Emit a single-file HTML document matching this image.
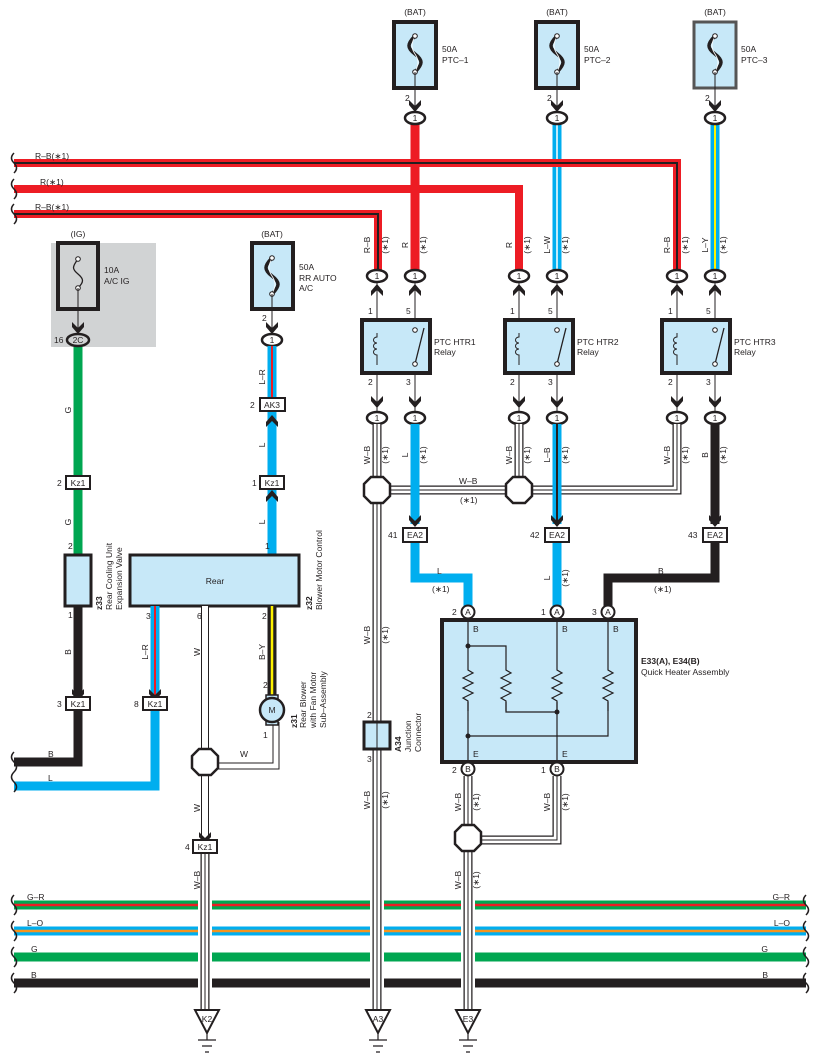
<!DOCTYPE html>
<html><head><meta charset="utf-8"><style>
html,body{margin:0;padding:0;background:#fff}
svg{display:block}
text{font-family:"Liberation Sans",sans-serif;font-size:8.5px;fill:#231f20}
.n{fill:none}
</style></head><body>
<svg width="818" height="1062" viewBox="0 0 818 1062" xmlns="http://www.w3.org/2000/svg">
<defs>
<path id="ad" d="M-6,-7 L0,-1 L6,-7 L6,-2 L0,5 L-6,-2Z" fill="#231f20"/>
<path id="au" d="M-6,7 L0,1 L6,7 L6,2 L0,-5 L-6,2Z" fill="#231f20"/>
<polygon id="oct" points="-6,-13 6,-13 13,-6 13,6 6,13 -6,13 -13,6 -13,-6" fill="#fff" stroke="#231f20" stroke-width="2.5"/>
<g id="fz"><path d="M0,-18 c-8,8 -8,12 0,18 c8,6 8,10 0,18" fill="none" stroke="#231f20" stroke-width="3.5"/><path d="M0,-18 c-4,8 -4,12 0,18 c4,6 4,10 0,18" fill="none" stroke="#fff" stroke-width="0.8"/><circle cx="0" cy="-18" r="2.3" fill="#fff" stroke="#231f20"/><circle cx="0" cy="18" r="2.3" fill="#fff" stroke="#231f20"/></g>
<g id="coil"><path d="M0,-14 v4 a3.5,3 0 1 0 0,6 a3.5,3 0 1 0 0,6 a3.5,3 0 1 0 0,6 v10" fill="none" stroke="#231f20" stroke-width="1"/></g>
<path id="res" d="M0,0 v10 l5,3 l-10,5 l10,5 l-10,5 l10,5 l-10,5 l5,3 v10" fill="none" stroke="#231f20" stroke-width="1.2"/>
</defs>

<!-- top fuses -->
<g>
<text x="415" y="15" text-anchor="middle">(BAT)</text>
<rect x="394" y="22" width="42" height="66" fill="#c7e8f8" stroke="#231f20" stroke-width="4"/>
<use href="#fz" x="415" y="54"/>
<text x="442" y="52">50A</text><text x="442" y="63">PTC–1</text>
<text x="557" y="15" text-anchor="middle">(BAT)</text>
<rect x="536" y="22" width="42" height="66" fill="#c7e8f8" stroke="#231f20" stroke-width="4"/>
<use href="#fz" x="557" y="54"/>
<text x="584" y="52">50A</text><text x="584" y="63">PTC–2</text>
<text x="715" y="15" text-anchor="middle">(BAT)</text>
<rect x="694" y="22" width="42" height="66" fill="#c7e8f8" stroke="#555" stroke-width="3"/>
<use href="#fz" x="715" y="54"/>
<text x="741" y="52">50A</text><text x="741" y="63">PTC–3</text>
<path d="M415,72V110M557,72V110M715,72V110" stroke="#231f20"/>
<text x="405" y="101">2</text><text x="547" y="101">2</text><text x="705" y="101">2</text>
<use href="#ad" x="415" y="107"/><use href="#ad" x="557" y="107"/><use href="#ad" x="715" y="107"/>
</g>

<!-- top vertical wires -->
<path d="M415,124V272" stroke="#ed1c24" stroke-width="9"/>
<path d="M557,124V272" stroke="#00aeef" stroke-width="9"/><path d="M557,124V272" stroke="#fff" stroke-width="1.5"/>
<path d="M715,124V272" stroke="#00aeef" stroke-width="9"/><path d="M715,124V272" stroke="#fff200" stroke-width="2"/>

<!-- harness -->
<polyline class="n" points="14,163 677,163 677,272" stroke="#ed1c24" stroke-width="8"/>
<polyline class="n" points="14,163 677,163 677,272" stroke="#231f20" stroke-width="2"/>
<polyline class="n" points="14,189 519,189 519,272" stroke="#ed1c24" stroke-width="8"/>
<polyline class="n" points="14,214 378,214 378,272" stroke="#ed1c24" stroke-width="8"/>
<polyline class="n" points="14,214 378,214 378,272" stroke="#231f20" stroke-width="2"/>
<path d="M14,153 q-5,5 0,10 q5,5 0,10 M14,179 q-5,5 0,10 q5,5 0,10 M14,204 q-5,5 0,10 q5,5 0,10" class="n" stroke="#231f20" stroke-width="1.5"/>
<text x="35" y="159">R–B(∗1)</text><text x="40" y="185">R(∗1)</text><text x="35" y="210">R–B(∗1)</text>

<!-- oval connectors -->
<g fill="#fff" stroke="#231f20" stroke-width="2.5">
<ellipse cx="415" cy="118" rx="10" ry="6"/><ellipse cx="557" cy="118" rx="10" ry="6"/><ellipse cx="715" cy="118" rx="10" ry="6"/>
<ellipse cx="377" cy="276" rx="10" ry="6"/><ellipse cx="415" cy="276" rx="10" ry="6"/><ellipse cx="519" cy="276" rx="10" ry="6"/><ellipse cx="557" cy="276" rx="10" ry="6"/><ellipse cx="677" cy="276" rx="10" ry="6"/><ellipse cx="715" cy="276" rx="10" ry="6"/>
<ellipse cx="377" cy="418" rx="10" ry="6"/><ellipse cx="415" cy="418" rx="10" ry="6"/><ellipse cx="519" cy="418" rx="10" ry="6"/><ellipse cx="557" cy="418" rx="10" ry="6"/><ellipse cx="677" cy="418" rx="10" ry="6"/><ellipse cx="715" cy="418" rx="10" ry="6"/>
<ellipse cx="272" cy="340" rx="10" ry="6"/>
</g>
<g text-anchor="middle" font-size="8">
<text x="415" y="121">1</text><text x="557" y="121">1</text><text x="715" y="121">1</text>
<text x="377" y="279">1</text><text x="415" y="279">1</text><text x="519" y="279">1</text><text x="557" y="279">1</text><text x="677" y="279">1</text><text x="715" y="279">1</text>
<text x="377" y="421">1</text><text x="415" y="421">1</text><text x="519" y="421">1</text><text x="557" y="421">1</text><text x="677" y="421">1</text><text x="715" y="421">1</text>
<text x="272" y="343">1</text>
</g>

<!-- rotated labels top -->
<g text-anchor="middle">
<text transform="translate(370,245) rotate(-90)">R–B</text><text transform="translate(388,245) rotate(-90)">(∗1)</text>
<text transform="translate(408,245) rotate(-90)">R</text><text transform="translate(426,245) rotate(-90)">(∗1)</text>
<text transform="translate(512,245) rotate(-90)">R</text><text transform="translate(530,245) rotate(-90)">(∗1)</text>
<text transform="translate(550,245) rotate(-90)">L–W</text><text transform="translate(568,245) rotate(-90)">(∗1)</text>
<text transform="translate(670,245) rotate(-90)">R–B</text><text transform="translate(688,245) rotate(-90)">(∗1)</text>
<text transform="translate(708,245) rotate(-90)">L–Y</text><text transform="translate(726,245) rotate(-90)">(∗1)</text>
</g>

<!-- relays -->
<path d="M377,282V412M415,282V412M519,282V412M557,282V412M677,282V412M715,282V412" stroke="#231f20"/>
<g>
<use href="#au" x="377" y="289"/><use href="#au" x="415" y="289"/><use href="#au" x="519" y="289"/><use href="#au" x="557" y="289"/><use href="#au" x="677" y="289"/><use href="#au" x="715" y="289"/>
<use href="#ad" x="377" y="403"/><use href="#ad" x="415" y="403"/><use href="#ad" x="519" y="403"/><use href="#ad" x="557" y="403"/><use href="#ad" x="677" y="403"/><use href="#ad" x="715" y="403"/>
</g>
<g>
<rect x="362" y="320" width="68" height="53" fill="#c7e8f8" stroke="#231f20" stroke-width="4"/>
<rect x="505" y="320" width="68" height="53" fill="#c7e8f8" stroke="#231f20" stroke-width="4"/>
<rect x="662" y="320" width="68" height="53" fill="#c7e8f8" stroke="#231f20" stroke-width="4"/>
</g>
<g>
<rect x="411" y="332" width="8" height="31" fill="#c7e8f8"/><rect x="553" y="332" width="8" height="31" fill="#c7e8f8"/><rect x="711" y="332" width="8" height="31" fill="#c7e8f8"/>
<rect x="373" y="333" width="8" height="28" fill="#c7e8f8"/><rect x="515" y="333" width="8" height="28" fill="#c7e8f8"/><rect x="673" y="333" width="8" height="28" fill="#c7e8f8"/>
<use href="#coil" x="377" y="347"/><use href="#coil" x="519" y="347"/><use href="#coil" x="677" y="347"/>
<path d="M424,328L415,364M566,328L557,364M724,328L715,364" stroke="#231f20" stroke-width="1.3"/>
<g fill="#fff" stroke="#231f20"><circle cx="415" cy="330" r="2.3"/><circle cx="415" cy="364" r="2.3"/><circle cx="557" cy="330" r="2.3"/><circle cx="557" cy="364" r="2.3"/><circle cx="715" cy="330" r="2.3"/><circle cx="715" cy="364" r="2.3"/></g>
</g>
<text x="368" y="314">1</text><text x="406" y="314">5</text><text x="510" y="314">1</text><text x="548" y="314">5</text><text x="668" y="314">1</text><text x="706" y="314">5</text>
<text x="368" y="385">2</text><text x="406" y="385">3</text><text x="510" y="385">2</text><text x="548" y="385">3</text><text x="668" y="385">2</text><text x="706" y="385">3</text>
<text x="434" y="345">PTC HTR1</text><text x="434" y="355">Relay</text>
<text x="577" y="345">PTC HTR2</text><text x="577" y="355">Relay</text>
<text x="734" y="345">PTC HTR3</text><text x="734" y="355">Relay</text>

<!-- lower colored wires -->
<polyline class="n" points="415,542 415,578 468,578 468,606" stroke="#00aeef" stroke-width="9"/>
<path d="M557,542V606" stroke="#00aeef" stroke-width="9"/>
<path d="M715,424V524" stroke="#231f20" stroke-width="9"/>
<polyline class="n" points="715,542 715,578 608,578 608,606" stroke="#231f20" stroke-width="9"/>

<!-- W-B triple wires -->
<g class="n">
<polyline points="377,424 377,1010" stroke="#231f20" stroke-width="9"/>
<polyline points="519,424 519,490" stroke="#231f20" stroke-width="9"/>
<polyline points="377,490 677,490 677,424" stroke="#231f20" stroke-width="9"/>
<polyline points="468,776 468,1010" stroke="#231f20" stroke-width="9"/>
<polyline points="557,776 557,840 468,840" stroke="#231f20" stroke-width="9"/>
<polyline points="205,853 205,1010" stroke="#231f20" stroke-width="9"/>
<polyline points="377,424 377,1010" stroke="#fff" stroke-width="6.5"/>
<polyline points="519,424 519,490" stroke="#fff" stroke-width="6.5"/>
<polyline points="377,490 677,490 677,424" stroke="#fff" stroke-width="6.5"/>
<polyline points="468,776 468,1010" stroke="#fff" stroke-width="6.5"/>
<polyline points="557,776 557,840 468,840" stroke="#fff" stroke-width="6.5"/>
<polyline points="205,853 205,1010" stroke="#fff" stroke-width="6.5"/>
<polyline points="377,424 377,1010" stroke="#231f20" stroke-width="1"/>
<polyline points="519,424 519,490" stroke="#231f20" stroke-width="1"/>
<polyline points="377,490 677,490 677,424" stroke="#231f20" stroke-width="1"/>
<polyline points="468,776 468,1010" stroke="#231f20" stroke-width="1"/>
<polyline points="557,776 557,840 468,840" stroke="#231f20" stroke-width="1"/>
<polyline points="205,853 205,1010" stroke="#231f20" stroke-width="1"/>
</g>
<path d="M415,424V524" stroke="#00aeef" stroke-width="9"/>
<path d="M557,424V524" stroke="#00aeef" stroke-width="9"/><path d="M557,424V524" stroke="#231f20" stroke-width="2"/>
<use href="#oct" x="377" y="490"/><use href="#oct" x="519" y="490"/><use href="#oct" x="468" y="838"/>
<text x="459" y="484">W–B</text><text x="460" y="503">(∗1)</text>

<g text-anchor="middle">
<text transform="translate(370,455) rotate(-90)">W–B</text><text transform="translate(388,455) rotate(-90)">(∗1)</text>
<text transform="translate(408,455) rotate(-90)">L</text><text transform="translate(426,455) rotate(-90)">(∗1)</text>
<text transform="translate(512,455) rotate(-90)">W–B</text><text transform="translate(530,455) rotate(-90)">(∗1)</text>
<text transform="translate(550,455) rotate(-90)">L–B</text><text transform="translate(568,455) rotate(-90)">(∗1)</text>
<text transform="translate(670,455) rotate(-90)">W–B</text><text transform="translate(688,455) rotate(-90)">(∗1)</text>
<text transform="translate(708,455) rotate(-90)">B</text><text transform="translate(726,455) rotate(-90)">(∗1)</text>
<text transform="translate(370,635) rotate(-90)">W–B</text><text transform="translate(388,635) rotate(-90)">(∗1)</text>
<text transform="translate(550,578) rotate(-90)">L</text><text transform="translate(568,578) rotate(-90)">(∗1)</text>
<text transform="translate(370,800) rotate(-90)">W–B</text><text transform="translate(388,800) rotate(-90)">(∗1)</text>
<text transform="translate(461,802) rotate(-90)">W–B</text><text transform="translate(479,802) rotate(-90)">(∗1)</text>
<text transform="translate(550,802) rotate(-90)">W–B</text><text transform="translate(568,802) rotate(-90)">(∗1)</text>
<text transform="translate(461,880) rotate(-90)">W–B</text><text transform="translate(479,880) rotate(-90)">(∗1)</text>
</g>
<text x="437" y="574">L</text><text x="432" y="592">(∗1)</text>
<text x="658" y="574">B</text><text x="654" y="592">(∗1)</text>

<!-- EA2 -->
<use href="#ad" x="415" y="522"/><use href="#ad" x="557" y="522"/><use href="#ad" x="715" y="522"/>
<g fill="#fff" stroke="#231f20" stroke-width="2"><rect x="403" y="528" width="24" height="14"/><rect x="545" y="528" width="24" height="14"/><rect x="703" y="528" width="24" height="14"/></g>
<g text-anchor="middle"><text x="415" y="538">EA2</text><text x="557" y="538">EA2</text><text x="715" y="538">EA2</text></g>
<text x="388" y="538">41</text><text x="530" y="538">42</text><text x="688" y="538">43</text>

<!-- heater -->
<rect x="442" y="620" width="194" height="142" fill="#c7e8f8" stroke="#231f20" stroke-width="4"/>
<g class="n" stroke="#231f20" stroke-width="1.2">
<path d="M468,620V660M468,702V762M468,646H506V660M506,702V712H557M557,620V660M557,702V762M608,620V660M608,702V736H468"/>
</g>
<use href="#res" x="468" y="660"/><use href="#res" x="506" y="660"/><use href="#res" x="557" y="660"/><use href="#res" x="608" y="660"/>
<g fill="#231f20"><circle cx="468" cy="646" r="2.5"/><circle cx="557" cy="712" r="2.5"/><circle cx="468" cy="736" r="2.5"/></g>
<text x="473" y="632">B</text><text x="562" y="632">B</text><text x="613" y="632">B</text>
<text x="473" y="757">E</text><text x="562" y="757">E</text>
<g fill="#fff" stroke="#231f20" stroke-width="2"><circle cx="468" cy="612" r="6.5"/><circle cx="557" cy="612" r="6.5"/><circle cx="608" cy="612" r="6.5"/><circle cx="468" cy="769" r="6.5"/><circle cx="557" cy="769" r="6.5"/></g>
<g text-anchor="middle" font-size="8"><text x="468" y="615">A</text><text x="557" y="615">A</text><text x="608" y="615">A</text><text x="468" y="772">B</text><text x="557" y="772">B</text></g>
<text x="452" y="615">2</text><text x="541" y="615">1</text><text x="592" y="615">3</text><text x="452" y="773">2</text><text x="541" y="773">1</text>
<text x="641" y="664" font-weight="bold" font-size="8">E33(A), E34(B)</text><text x="641" y="675" font-size="8">Quick Heater Assembly</text>

<!-- A34 -->
<rect x="364" y="722" width="26" height="27" fill="#c7e8f8" stroke="#231f20" stroke-width="3"/>
<path d="M377,722V749" stroke="#231f20"/>
<text x="367" y="718">2</text><text x="367" y="762">3</text>
<text transform="translate(401,752) rotate(-90)" font-weight="bold">A34</text>
<text transform="translate(411,752) rotate(-90)">Junction</text>
<text transform="translate(421,752) rotate(-90)">Connector</text>

<!-- left IG fuse -->
<rect x="51" y="243" width="105" height="104" fill="#d1d3d4"/>
<text x="78" y="237" text-anchor="middle">(IG)</text>
<rect x="58" y="243" width="40" height="66" fill="#d1d3d4" stroke="#231f20" stroke-width="4"/>
<path d="M78,259 c-6,8 -6,10 0,15 c6,5 6,8 0,14" class="n" stroke="#231f20" stroke-width="1.3"/>
<g fill="#fff" stroke="#231f20"><circle cx="78" cy="259" r="2.3"/><circle cx="78" cy="288" r="2.3"/></g>
<path d="M78,288V332" stroke="#231f20"/><use href="#ad" x="78" y="329"/>
<text x="104" y="273">10A</text><text x="104" y="284">A/C IG</text>
<text x="54" y="343">16</text>

<!-- BAT RR fuse -->
<text x="272" y="237" text-anchor="middle">(BAT)</text>
<rect x="252" y="243" width="41" height="66" fill="#c7e8f8" stroke="#231f20" stroke-width="4"/>
<use href="#fz" x="272" y="276"/>
<path d="M272,294V332" stroke="#231f20"/><use href="#ad" x="272" y="329"/>
<text x="299" y="270">50A</text><text x="299" y="281">RR AUTO</text><text x="299" y="291">A/C</text>
<text x="262" y="321">2</text>

<!-- green wire -->
<path d="M78,346V555" stroke="#00a651" stroke-width="9"/>
<ellipse cx="78" cy="340" rx="11" ry="6" fill="#d1d3d4" stroke="#231f20" stroke-width="2.5"/>
<text x="78" y="343" text-anchor="middle" font-size="8">2C</text>
<path d="M272,346V398" stroke="#00aeef" stroke-width="9"/><path d="M272,346V398" stroke="#ed1c24" stroke-width="2"/>
<path d="M272,411V555" stroke="#00aeef" stroke-width="9"/>
<use href="#au" x="272" y="420"/><use href="#au" x="272" y="495"/>
<g fill="#fff" stroke="#231f20" stroke-width="2">
<rect x="66" y="476" width="24" height="13"/><rect x="260" y="398" width="25" height="13"/><rect x="260" y="476" width="24" height="13"/>
</g>
<g text-anchor="middle" font-size="8"><text x="78" y="486">Kz1</text><text x="272" y="408">AK3</text><text x="272" y="486">Kz1</text></g>
<text x="57" y="486">2</text><text x="250" y="408">2</text><text x="252" y="486">1</text>
<g text-anchor="middle">
<text transform="translate(71,410) rotate(-90)">G</text><text transform="translate(71,522) rotate(-90)">G</text>
<text transform="translate(265,377) rotate(-90)">L–R</text><text transform="translate(265,445) rotate(-90)">L</text><text transform="translate(265,522) rotate(-90)">L</text>
<text transform="translate(71,652) rotate(-90)">B</text><text transform="translate(148,652) rotate(-90)">L–R</text>
<text transform="translate(200,652) rotate(-90)">W</text><text transform="translate(265,652) rotate(-90)">B–Y</text>
<text transform="translate(200,808) rotate(-90)">W</text><text transform="translate(200,880) rotate(-90)">W–B</text>
</g>
<text x="68" y="549">2</text><text x="265" y="549">1</text>

<!-- z33 & z32 -->
<rect x="65" y="555" width="26" height="51" fill="#c7e8f8" stroke="#231f20" stroke-width="3"/>
<rect x="130" y="555" width="169" height="51" fill="#c7e8f8" stroke="#231f20" stroke-width="3"/>
<text x="215" y="584" text-anchor="middle">Rear</text>
<text transform="translate(102,610) rotate(-90)" font-weight="bold">z33</text>
<text transform="translate(112,610) rotate(-90)">Rear Cooling Unit</text>
<text transform="translate(122,610) rotate(-90)">Expansion Valve</text>
<text transform="translate(312,610) rotate(-90)" font-weight="bold">z32</text>
<text transform="translate(322,610) rotate(-90)">Blower Motor Control</text>
<text x="68" y="618">1</text><text x="146" y="619">3</text><text x="197" y="619">6</text><text x="262" y="619">2</text>

<!-- lower left wires -->
<polyline class="n" points="78,606 78,762 14,762" stroke="#231f20" stroke-width="9"/>
<path d="M155,606V697" stroke="#00aeef" stroke-width="9"/><path d="M155,606V697" stroke="#ed1c24" stroke-width="2"/>
<polyline class="n" points="155,710 155,786 14,786" stroke="#00aeef" stroke-width="9"/>
<path d="M272,606V698" stroke="#231f20" stroke-width="9"/><path d="M272,606V698" stroke="#fff200" stroke-width="2.5"/>
<g class="n">
<polyline points="205,606 205,840" stroke="#231f20" stroke-width="8"/>
<polyline points="276,722 276,766 205,766" stroke="#231f20" stroke-width="7"/>
<polyline points="205,606 205,840" stroke="#fff" stroke-width="6"/>
<polyline points="276,722 276,766 205,766" stroke="#fff" stroke-width="5"/>
</g>
<use href="#oct" x="205" y="762"/>
<text x="240" y="757">W</text>
<use href="#ad" x="78" y="696"/><use href="#ad" x="155" y="696"/><use href="#ad" x="205" y="839"/>
<g fill="#fff" stroke="#231f20" stroke-width="2">
<rect x="66" y="697" width="24" height="13"/><rect x="143" y="697" width="24" height="13"/><rect x="193" y="840" width="24" height="13"/>
</g>
<g text-anchor="middle" font-size="8"><text x="78" y="707">Kz1</text><text x="155" y="707">Kz1</text><text x="205" y="850">Kz1</text></g>
<text x="57" y="707">3</text><text x="134" y="707">8</text><text x="185" y="850">4</text>
<text x="48" y="757">B</text><text x="48" y="781">L</text>
<path d="M14,752 q-5,5 0,10 q5,5 0,10 q-5,5 0,10 q5,5 0,10" class="n" stroke="#231f20" stroke-width="1.5"/>

<!-- motor -->
<rect x="266" y="695" width="12" height="5" fill="#c7e8f8" stroke="#231f20" stroke-width="1.5"/>
<rect x="266" y="720" width="12" height="5" fill="#c7e8f8" stroke="#231f20" stroke-width="1.5"/>
<circle cx="272" cy="710" r="12" fill="#c7e8f8" stroke="#231f20" stroke-width="2.5"/>
<text x="272" y="713" text-anchor="middle">M</text>
<text x="263" y="688">2</text><text x="263" y="738">1</text>
<text transform="translate(297,728) rotate(-90)" font-weight="bold">z31</text>
<text transform="translate(306,728) rotate(-90)">Rear Blower</text>
<text transform="translate(316,728) rotate(-90)">with Fan Motor</text>
<text transform="translate(326,728) rotate(-90)">Sub–Assembly</text>

<!-- bottom buses -->
<path d="M14,905H806" stroke="#00a651" stroke-width="9"/><path d="M14,905H806" stroke="#ed1c24" stroke-width="2.5"/>
<path d="M14,931H806" stroke="#00aeef" stroke-width="9"/><path d="M14,931H806" stroke="#f7941d" stroke-width="2.5"/>
<path d="M14,957H806" stroke="#00a651" stroke-width="9"/>
<path d="M14,983H806" stroke="#231f20" stroke-width="9"/>
<path d="M205,895V990M377,895V990M468,895V990" stroke="#fff" stroke-width="14"/>
<g class="n">
<path d="M205,890V1010M377,890V1010M468,890V1010" stroke="#231f20" stroke-width="9"/>
<path d="M205,890V1010M377,890V1010M468,890V1010" stroke="#fff" stroke-width="6.5"/>
<path d="M205,890V1010M377,890V1010M468,890V1010" stroke="#231f20" stroke-width="1"/>
</g>
<path d="M14,895 q-5,5 0,10 q5,5 0,10 M14,921 q-5,5 0,10 q5,5 0,10 M14,947 q-5,5 0,10 q5,5 0,10 M14,973 q-5,5 0,10 q5,5 0,10" class="n" stroke="#231f20" stroke-width="1.5"/>
<path d="M806,895 q-5,5 0,10 q5,5 0,10 M806,921 q-5,5 0,10 q5,5 0,10 M806,947 q-5,5 0,10 q5,5 0,10 M806,973 q-5,5 0,10 q5,5 0,10" class="n" stroke="#231f20" stroke-width="1.5"/>
<text x="27" y="900">G–R</text><text x="27" y="926">L–O</text><text x="31" y="952">G</text><text x="31" y="978">B</text>
<text x="790" y="900" text-anchor="end">G–R</text>
<text x="790" y="926" text-anchor="end">L–O</text><text x="768" y="952" text-anchor="end">G</text><text x="768" y="978" text-anchor="end">B</text>

<!-- grounds -->
<g fill="#fff" stroke="#231f20" stroke-width="2">
<polygon points="195,1010 219,1010 207,1033"/><polygon points="366,1010 390,1010 378,1033"/><polygon points="456,1010 480,1010 468,1033"/>
</g>
<g text-anchor="middle" font-size="8"><text x="207" y="1022">K2</text><text x="378" y="1022">A3</text><text x="468" y="1022">E3</text></g>
<path d="M207,1033V1040M198,1040H216M202,1046H212M205,1052H209 M378,1033V1040M369,1040H387M373,1046H383M376,1052H380 M468,1033V1040M459,1040H477M463,1046H473M466,1052H470" stroke="#231f20" stroke-width="1.2"/>
</svg>
</body></html>
